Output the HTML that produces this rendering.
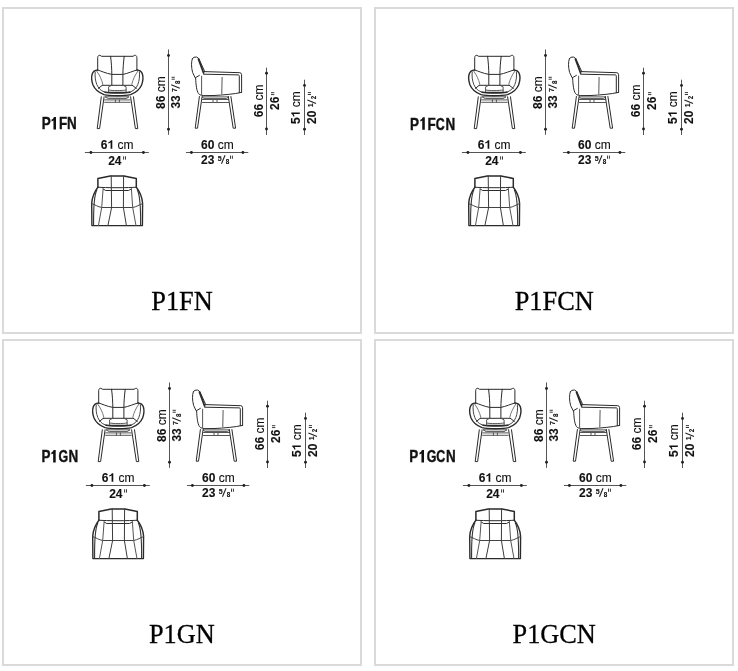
<!DOCTYPE html>
<html><head><meta charset="utf-8">
<style>
html,body{margin:0;padding:0;background:#fff;width:738px;height:671px;overflow:hidden}
.p{position:absolute;width:356px;height:323px;border:2px solid #dadada;background:#fff}
svg{position:absolute;left:0;top:0;will-change:transform}
.ln{fill:none;stroke:#2a2a2a;stroke-width:1;stroke-linejoin:round;stroke-linecap:round}
.dim{stroke:#555;stroke-width:1}
.dt{fill:#222}
.q{fill:none;stroke:#222;stroke-width:0.9}
.t{font-family:"Liberation Sans",sans-serif;fill:#111}
.cap{font-family:"Liberation Serif",serif;font-size:27px;fill:#000;stroke:#000;stroke-width:0.3}
</style></head><body>
<div class="p" style="left:2px;top:7px"></div>
<div class="p" style="left:374px;top:7px"></div>
<div class="p" style="left:2px;top:339px"></div>
<div class="p" style="left:374px;top:339px"></div>
<svg width="738" height="671" viewBox="0 0 738 671">
<defs>
<g id="chair">
 <!-- front view -->
 <g class="ln">
  <path d="M97.7,70 L97.7,57.5 C97.8,55.8 98.8,55.1 99.9,55.3 L101.6,56.3 L133,56.3 L134.7,55.3 C135.8,55.1 136.8,55.8 136.9,57.5 L136.9,70"/>
  <path d="M110.6,56.3 C111.4,63 111.8,69 111.8,74.4 L111.8,85.3 M124.2,56.3 C123.4,63 122.9,69 122.9,74.4 L122.9,85.3"/>
  <path d="M97.7,70 C101,71 106,73.4 111.8,74.4 L122.9,74.4 C128,73.4 133,71 136.9,70"/>
  <path d="M97.7,70 C95.5,70.2 93,71.5 92.2,74 C91.3,77 91.5,81 93,85 C95,89.5 99,92.8 104,94.6 C108,95.6 112,95.7 117.3,95.7 C122.6,95.7 126.6,95.6 130.6,94.6 C135.6,92.8 139.6,89.5 141.6,85 C143.1,81 143.3,77 142.4,74 C141.6,71.5 139.1,70.2 136.9,70" style="stroke-width:1.4"/>
  <path d="M95.2,72 C94.8,76 95.2,80.5 96.8,84.5 C98.3,88 100.5,90.5 104,91.8 C108,92.9 112,93.2 117.3,93.2 C122.6,93.2 126.6,92.9 130.6,91.8 C134.1,90.5 136.3,88 137.8,84.5 C139.4,80.5 139.8,76 139.4,72" style="stroke:#444"/>
  <path d="M96.8,71.2 C99.5,75 101.5,79 102.8,84.1 M137.8,71.2 C135.1,75 133.1,79 131.8,84.1" style="stroke:#777"/>
  <path d="M102.3,85.3 L132.3,85.3 M102.3,85.3 L98.3,88.4 M132.3,85.3 L136.3,88.4"/>
  <path d="M111.8,85.3 L108.6,86.8 L108.6,91.8 M122.9,85.3 L126.1,86.8 L126.1,91.8 M108.6,90 C112,90.8 122,90.8 126.1,90" style="stroke:#555"/>
  <path d="M105,92.2 C110,92.8 125,92.8 130,92.2" style="stroke-width:1.6"/>
  <path d="M105.4,96.8 L129.1,96.8 L126,98.6 L108.6,98.6 Z" style="stroke:#555"/>
  <path d="M104.6,99.9 L130.2,99.9 M104.6,102.3 L130.2,102.3 M115.4,99.9 V102.3 M119.4,99.9 V102.3" style="stroke:#555"/>
  <path d="M101.3,96.8 L97.2,128.6 L99.6,128.6 L104.1,96.8 M130.6,96.8 L135.4,128.6 L137.8,128.6 L133.5,96.8"/>
 </g>
 <!-- side view -->
 <g class="ln">
  <path d="M192.3,58.8 L194,57.3 L196.6,57 Q198,57.3 198.8,59"/>
  <path d="M198.5,59.2 L203.6,73" style="stroke-width:1.8"/>
  <path d="M198.8,58.5 L204.6,71.3"/>
  <path d="M192.3,58.8 C191.2,62 191.2,67 192.6,72.5 L195.2,77.8 L199.4,75.4"/>
  <path d="M204.4,71.6 L239.8,72.7 Q241.6,72.9 241.6,74.7 L241.6,92.4 M203.6,74.2 L238.5,74.9 Q239.3,75.1 239.3,76.1 L239.3,92.7"/>
  <path d="M195.6,78 C196,85 196.5,90.5 198.5,93.6 C200,95.4 202.5,95.6 205,95.6 L214,95.5 C222,95.1 234.5,94.1 241.6,92.4"/>
  <path d="M201.6,76.2 L201.6,94.5 M222.1,77.4 L221.8,93.7" style="stroke:#555"/>
  <path d="M202.5,96.9 L228.5,96.9 L226.5,98.6 L204.5,98.6 Z" style="stroke:#555"/>
  <path d="M202.5,99.5 L228.5,99.5 M202.5,102.5 L228.5,102.5 M213,99.5 V102.5 M217,99.5 V102.5" style="stroke:#555"/>
  <path d="M199.4,96.5 L195.2,128.2 L197.5,128.2 L202.1,96.5 M228.3,96.5 L233.2,128.2 L235.6,128.2 L230.9,96.5"/>
 </g>
 <!-- back view -->
 <g class="ln">
  <path d="M97.9,187.2 L97.9,178.5 L110.3,175.9 L123.9,175.9 L136.3,178.5 L136.3,187.2" style="stroke-width:1.5"/>
  <path d="M97.9,187.2 C105,187.9 129,187.9 136.3,187.2 M103.1,188.9 L105.7,190.5 L128.5,190.5 L131.4,188.9"/>
  <path d="M97.9,187.2 C94.5,191.5 92.2,197 91.7,203.3 L91.9,225.6 L142.4,225.6 L142.6,203.3 C142.1,197 139.8,191.5 136.3,187.2" style="stroke-width:1.4"/>
  <path d="M91.7,203.5 C95,204.7 98,206.9 101.7,207.5 L132.7,207.5 C136.4,206.9 139.4,204.7 142.6,203.5" style="stroke:#444"/>
  <path d="M111.2,175.9 L111.6,207.5 L107.9,225.6 M123.6,175.9 L123.4,207.5 L126.4,225.6" style="stroke:#3a3a3a"/>
  <path d="M103.1,188.9 L101.7,207.5 L98.4,225.6 M131.4,188.9 L132.7,207.5 L136,225.6" style="stroke:#555"/>
  <path d="M96.8,190 C94.4,195 93.4,205 93.6,225 M137.4,190 C139.8,195 140.8,205 140.6,225" style="stroke:#333;stroke-width:1.1"/>
 </g>
 <!-- dims -->
 <g class="dim">
  <path d="M168.5,49.5 V134.8 M266.5,67.7 V135 M304.5,79.7 V135 M84.9,152.5 H148.8 M186,152.5 H248.3"/>
 </g>
 <g class="dt">
  <circle cx="168.5" cy="55.5" r="1.45"/><circle cx="168.5" cy="129.3" r="1.45"/>
  <circle cx="266.5" cy="73.3" r="1.45"/><circle cx="266.5" cy="129" r="1.45"/>
  <circle cx="304.5" cy="85.4" r="1.45"/><circle cx="304.5" cy="129.3" r="1.45"/>
  <circle cx="90.9" cy="152.5" r="1.45"/><circle cx="143.4" cy="152.5" r="1.45"/>
  <circle cx="191.4" cy="152.5" r="1.45"/><circle cx="242.9" cy="152.5" r="1.45"/>
 </g>
 <g class="t" style="font-size:12px;stroke:#000;stroke-width:0.1">
  <g transform="translate(100.8,149)"><text font-weight="bold">6</text><path d="M11.5,-0.2 L11.5,-8.7 L10.1,-8.7 C9.7,-7.7 8.8,-7 7.5,-6.7 L7.5,-5.5 C8.5,-5.6 9.3,-6 9.8,-6.4 L9.8,-0.2 Z" style="stroke:none"/><text x="16.6">cm</text></g>
  <g transform="translate(108.2,164.6)"><text font-weight="bold">24</text><path d="M15.4,-8.3 V-5 M17.3,-8.3 V-5" class="q"/></g>
  <g transform="translate(201.1,149)"><text font-weight="bold">60</text><text x="16.6">cm</text></g>
  <g transform="translate(201.1,164.2)"><text font-weight="bold">23</text><text x="16.6" y="-3.4" font-size="7" font-weight="bold">5</text><path d="M20.4,-0.4 L23.9,-9" class="q" style="stroke-width:1.1"/><text x="24.7" y="-0.2" font-size="6.3" font-weight="bold">8</text><path d="M29.4,-8.6 V-5.4 M31.3,-8.6 V-5.4" class="q"/></g>
  <g transform="translate(164.8,108.9) rotate(-90)"><text font-weight="bold">86</text><text x="16.6">cm</text></g>
  <g transform="translate(180.2,108.6) rotate(-90)"><text font-weight="bold">33</text><text x="16.6" y="-3.4" font-size="7" font-weight="bold">7</text><path d="M20.4,-0.4 L23.9,-9" class="q" style="stroke-width:1.1"/><text x="24.7" y="-0.2" font-size="6.3" font-weight="bold">8</text><path d="M29.4,-8.6 V-5.4 M31.3,-8.6 V-5.4" class="q"/></g>
  <g transform="translate(263,117.2) rotate(-90)"><text font-weight="bold">66</text><text x="16.6">cm</text></g>
  <g transform="translate(279.3,110) rotate(-90)"><text font-weight="bold">26</text><path d="M15.4,-8.3 V-5 M17.3,-8.3 V-5" class="q"/></g>
  <g transform="translate(300,123.9) rotate(-90)"><text font-weight="bold">5</text><path d="M11.5,-0.2 L11.5,-8.7 L10.1,-8.7 C9.7,-7.7 8.8,-7 7.5,-6.7 L7.5,-5.5 C8.5,-5.6 9.3,-6 9.8,-6.4 L9.8,-0.2 Z" style="stroke:none"/><text x="16.6">cm</text></g>
  <g transform="translate(316.4,123.9) rotate(-90)"><text font-weight="bold">20</text><text x="16.6" y="-3.4" font-size="7" font-weight="bold">1</text><path d="M20.4,-0.4 L23.9,-9" class="q" style="stroke-width:1.1"/><text x="24.7" y="-0.2" font-size="6.3" font-weight="bold">2</text><path d="M29.4,-8.6 V-5.4 M31.3,-8.6 V-5.4" class="q"/></g>
 </g>
</g>
</defs>
<use href="#chair" x="0" y="0"/>
<use href="#chair" x="377" y="0"/>
<use href="#chair" x="1" y="333"/>
<use href="#chair" x="378" y="333"/>
<g class="t lbl" font-weight="bold" style="font-size:16.8px;stroke:#1e1e1e;stroke-width:0.45">
<text transform="translate(41.70,129.40) scale(0.80,1)">P</text>
<path d="M56.00,129.60 L56.00,117.10 L53.90,117.10 C53.50,118.40 52.60,119.30 51.60,119.60 L51.60,121.40 C52.40,121.30 53.10,120.90 53.45,120.50 L53.45,129.60 Z" style="stroke:none"/>
<text transform="translate(59.00,129.40) scale(0.80,1)">F</text>
<text transform="translate(67.10,129.40) scale(0.80,1)">N</text>
<text transform="translate(410.10,129.50) scale(0.80,1)">P</text>
<path d="M424.80,129.70 L424.80,117.20 L422.70,117.20 C422.30,118.50 421.40,119.40 420.30,119.70 L420.30,121.50 C421.20,121.40 421.90,121.00 422.25,120.60 L422.25,129.70 Z" style="stroke:none"/>
<text transform="translate(427.60,129.50) scale(0.80,1)">F</text>
<text transform="translate(435.70,129.50) scale(0.74,1)">C</text>
<text transform="translate(445.50,129.50) scale(0.80,1)">N</text>
<text transform="translate(41.40,462.30) scale(0.80,1)">P</text>
<path d="M55.70,462.50 L55.70,450.00 L53.60,450.00 C53.20,451.30 52.30,452.20 51.30,452.50 L51.30,454.30 C52.10,454.20 52.80,453.80 53.15,453.40 L53.15,462.50 Z" style="stroke:none"/>
<text transform="translate(58.60,462.30) scale(0.74,1)">G</text>
<text transform="translate(68.50,462.30) scale(0.80,1)">N</text>
<text transform="translate(409.30,462.40) scale(0.80,1)">P</text>
<path d="M424.00,462.60 L424.00,450.10 L421.90,450.10 C421.50,451.40 420.60,452.30 419.50,452.60 L419.50,454.40 C420.40,454.30 421.10,453.90 421.45,453.50 L421.45,462.60 Z" style="stroke:none"/>
<text transform="translate(426.80,462.40) scale(0.74,1)">G</text>
<text transform="translate(436.20,462.40) scale(0.74,1)">C</text>
<text transform="translate(445.90,462.40) scale(0.80,1)">N</text>
</g>
<g class="cap" text-anchor="middle">
 <text transform="translate(182,310) scale(0.975,1)">P1FN</text>
 <text transform="translate(554.2,310) scale(0.975,1)">P1FCN</text>
 <text transform="translate(181.8,642.5) scale(0.975,1)">P1GN</text>
 <text transform="translate(554.2,642.5) scale(0.975,1)">P1GCN</text>
</g>
</svg>
</body></html>
